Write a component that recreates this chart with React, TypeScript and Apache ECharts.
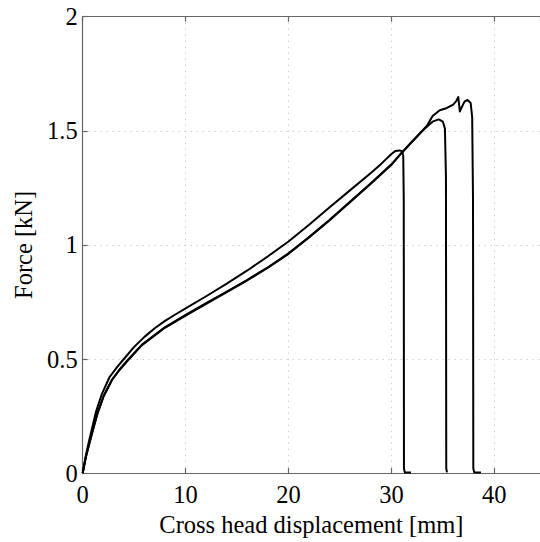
import React, { useEffect, useRef } from "react";
import * as echarts from "echarts";

// Specimen A (upper curve, fails at ~31.2 mm)
const seriesA: [number, number][] = [
  [0, 0], [0.3, 0.075], [0.6, 0.138], [0.95, 0.204], [1.3, 0.27], [1.85, 0.345],
  [2.6, 0.42], [3.3, 0.462], [4, 0.5], [5, 0.553], [6, 0.597], [7, 0.635], [8, 0.667],
  [9, 0.695], [10, 0.722], [12, 0.775], [14, 0.83], [16, 0.888], [18, 0.95],
  [20, 1.015], [22, 1.088], [24, 1.165], [26, 1.24], [28, 1.315], [29, 1.355],
  [30, 1.398], [30.4, 1.412], [30.8, 1.414], [31.05, 1.41], [31.15, 1.39],
  [31.2, 1.2], [31.22, 0.02], [31.3, 0.003], [31.9, 0.003],
];

// Specimen B (fails at ~35.3 mm)
const seriesB: [number, number][] = [
  [0, 0], [0.3, 0.07], [0.65, 0.132], [1.05, 0.2], [1.45, 0.265], [2.05, 0.34],
  [2.85, 0.41], [3.6, 0.455], [4.47, 0.5], [5.76, 0.563], [7.86, 0.635], [10, 0.693],
  [12, 0.745], [14, 0.795], [16, 0.847], [18, 0.902], [20, 0.963], [22, 1.035],
  [24, 1.11], [26, 1.19], [28, 1.27], [30, 1.353], [31, 1.404], [32, 1.452],
  [33.1, 1.503], [33.5, 1.52], [34.0, 1.54], [34.6, 1.55], [35.0, 1.54], [35.2, 1.51],
  [35.3, 1.3], [35.33, 0.02], [35.4, 0.003],
];

// Specimen C (fails at ~38 mm)
const seriesC: [number, number][] = [
  [0, 0], [0.3, 0.068], [0.65, 0.13], [1.05, 0.198], [1.45, 0.263], [2.05, 0.338],
  [2.85, 0.408], [3.6, 0.453], [4.47, 0.498], [5.76, 0.561], [7.86, 0.633], [10, 0.69],
  [12, 0.742], [14, 0.793], [16, 0.845], [18, 0.9], [20, 0.961], [22, 1.033],
  [24, 1.108], [26, 1.188], [28, 1.268], [30, 1.351], [31, 1.403], [32, 1.452],
  [33.1, 1.505], [33.5, 1.525], [34.0, 1.565], [34.7, 1.59], [35.4, 1.6], [36.0, 1.615],
  [36.3, 1.63], [36.5, 1.648], [36.65, 1.585], [36.8, 1.6], [37.1, 1.628], [37.4, 1.635],
  [37.7, 1.622], [37.85, 1.56], [37.93, 1.2], [37.96, 0.02], [38.05, 0.003],
  [38.7, 0.003],
];

// the visible x range is cut at the right edge of the picture (~44.4 mm)
const xTicks = { min: 0, max: 44.44, interval: 10 };
const yTicks = { min: 0, max: 2, interval: 0.5 };
const xName = "Cross head displacement [mm]";
const yName = "Force [kN]";

const FONT = "Liberation Serif";
const AXIS_COLOR = "#666";

export default function App() {
  const ref = useRef<HTMLDivElement>(null);
  useEffect(() => {
    if (!ref.current) return;
    const chart = echarts.init(ref.current, undefined, { renderer: "svg" });
    const lineSeries = (data: [number, number][]) => ({
      type: "line",
      data,
      showSymbol: false,
      symbol: "none",
      lineStyle: { color: "#000", width: 2, join: "round" },
      z: 5,
    });
    const axisLine = { show: true, onZero: false, lineStyle: { color: AXIS_COLOR, width: 1.2 } };
    const axisTick = { show: true, inside: true, length: 5, lineStyle: { color: AXIS_COLOR, width: 1.2 } };
    const split = { show: true, lineStyle: { color: "#bbb", type: [1, 5], width: 1 } };
    chart.setOption({
      animation: false,
      backgroundColor: "#fff",
      grid: { left: 82.7, top: 16.7, right: 0, bottom: 61.3, containLabel: false },
      xAxis: [
        {
          type: "value",
          min: xTicks.min,
          max: xTicks.max,
          interval: xTicks.interval,
          position: "bottom",
          name: xName,
          nameLocation: "middle",
          nameGap: 31,
          nameTextStyle: { fontFamily: FONT, fontSize: 24.5, color: "#000" },
          axisLine,
          axisTick,
          axisLabel: { margin: 9, fontFamily: FONT, fontSize: 24.5, color: "#000", showMaxLabel: false },
          splitLine: split,
        },
        {
          type: "value",
          min: xTicks.min,
          max: xTicks.max,
          interval: xTicks.interval,
          position: "top",
          axisLine,
          axisTick,
          axisLabel: { show: false },
          splitLine: { show: false },
        },
      ],
      yAxis: {
        type: "value",
        min: yTicks.min,
        max: yTicks.max,
        interval: yTicks.interval,
        name: yName,
        nameLocation: "middle",
        nameGap: 45.5,
        nameRotate: 90,
        nameTextStyle: { fontFamily: FONT, fontSize: 24.5, color: "#000" },
        axisLine,
        axisTick,
        axisLabel: { margin: 5, fontFamily: FONT, fontSize: 24.5, color: "#000" },
        splitLine: split,
      },
      series: [lineSeries(seriesA), lineSeries(seriesB), lineSeries(seriesC)],
    });
    return () => chart.dispose();
  }, []);
  return (
    <div
      ref={ref}
      style={{ position: "fixed", left: 0, top: 0, width: 540, height: 542, background: "#fff" }}
    />
  );
}
